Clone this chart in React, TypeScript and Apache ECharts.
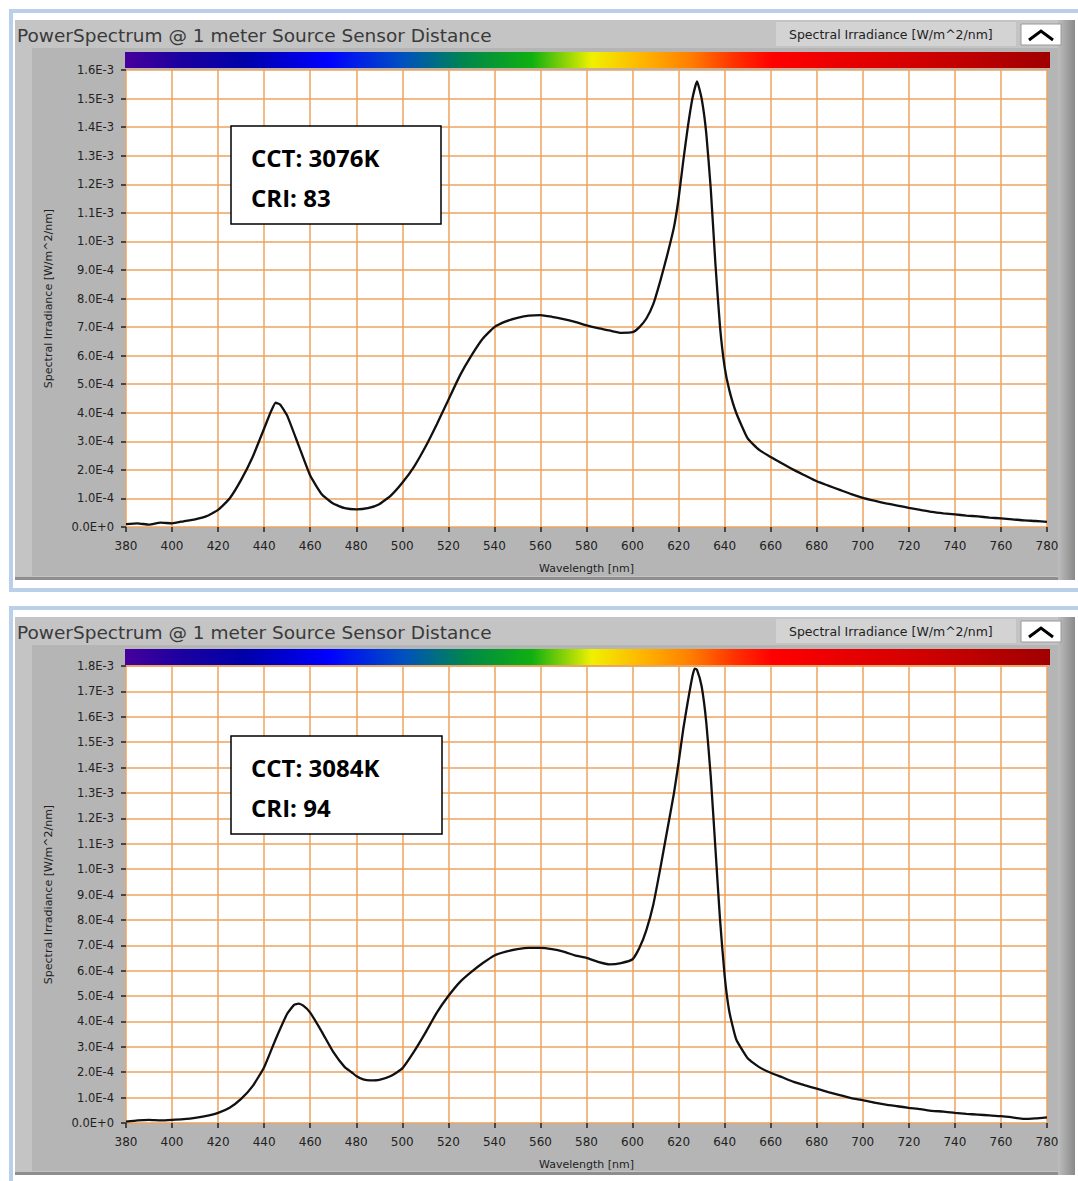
import React, { useEffect, useRef } from "react";
import * as echarts from "echarts";

// Values in units of 1E-4 W/m^2/nm : [wavelength nm, irradiance]
const UNIT = 1e-4;

const SPECTRUM_1: [number, number][] = [
  [380, 0.10], [385, 0.13], [390, 0.08], [395, 0.15], [400, 0.13], [405, 0.20], [410, 0.27], [415, 0.38],
  [420, 0.60], [425, 1.00], [430, 1.65], [435, 2.45], [440, 3.45], [443, 4.05], [445, 4.35], [447, 4.28],
  [450, 3.90], [455, 2.85], [460, 1.80], [465, 1.15], [470, 0.82], [475, 0.66], [480, 0.62], [485, 0.66],
  [490, 0.80], [495, 1.10], [500, 1.55], [505, 2.10], [510, 2.80], [515, 3.60], [520, 4.45], [525, 5.30],
  [530, 6.00], [535, 6.60], [540, 7.00], [545, 7.20], [550, 7.32], [555, 7.40], [560, 7.42], [565, 7.36],
  [570, 7.28], [575, 7.18], [580, 7.06], [585, 6.96], [590, 6.88], [595, 6.80], [600, 6.82], [603, 7.00],
  [606, 7.30], [609, 7.80], [612, 8.60], [615, 9.50], [618, 10.5], [620, 11.5], [622, 12.8], [624, 14.0],
  [626, 15.0], [628, 15.6], [630, 15.0], [632, 13.8], [634, 11.8], [636, 9.2], [638, 7.0], [640, 5.6],
  [642, 4.8], [645, 4.0], [650, 3.1], [655, 2.7], [660, 2.45], [665, 2.22], [670, 2.00], [675, 1.80],
  [680, 1.60], [685, 1.45], [690, 1.30], [695, 1.15], [700, 1.02], [705, 0.92], [710, 0.83], [715, 0.75],
  [720, 0.67], [725, 0.60], [730, 0.53], [735, 0.48], [740, 0.44], [745, 0.40], [750, 0.37], [755, 0.33],
  [760, 0.30], [765, 0.27], [770, 0.23], [775, 0.21], [780, 0.18],
];

const SPECTRUM_2: [number, number][] = [
  [380, 0.05], [385, 0.10], [390, 0.12], [395, 0.10], [400, 0.12], [405, 0.15], [410, 0.20], [415, 0.28],
  [420, 0.40], [425, 0.60], [430, 0.95], [435, 1.45], [440, 2.20], [445, 3.30], [450, 4.30], [453, 4.65],
  [455, 4.70], [457, 4.62], [460, 4.35], [465, 3.60], [470, 2.80], [475, 2.20], [478, 2.00], [480, 1.85],
  [483, 1.72], [486, 1.68], [490, 1.70], [495, 1.85], [500, 2.15], [505, 2.80], [510, 3.55], [515, 4.35],
  [520, 5.00], [525, 5.55], [530, 5.95], [535, 6.30], [540, 6.60], [545, 6.75], [550, 6.85], [555, 6.90],
  [560, 6.90], [565, 6.85], [570, 6.75], [575, 6.60], [580, 6.50], [585, 6.35], [590, 6.25], [595, 6.30],
  [600, 6.45], [603, 6.90], [606, 7.60], [609, 8.60], [612, 10.0], [615, 11.5], [618, 13.0], [620, 14.2],
  [622, 15.5], [624, 16.6], [626, 17.6], [627, 17.9], [628, 17.85], [630, 17.2], [632, 15.8], [634, 13.6],
  [636, 10.8], [638, 8.0], [640, 5.8], [642, 4.4], [645, 3.3], [650, 2.55], [655, 2.20], [660, 1.98],
  [665, 1.80], [670, 1.62], [675, 1.48], [680, 1.35], [685, 1.22], [690, 1.10], [695, 0.98], [700, 0.90],
  [705, 0.80], [710, 0.72], [715, 0.66], [720, 0.60], [725, 0.55], [730, 0.48], [735, 0.45], [740, 0.40],
  [745, 0.36], [750, 0.33], [755, 0.30], [760, 0.27], [765, 0.22], [770, 0.16], [775, 0.18], [780, 0.22],
];

const X_MIN = 380;
const X_MAX = 780;
const X_STEP = 20;
const Y_MAX_1 = 16; // in UNIT
const Y_MAX_2 = 18;
const Y_STEP = 1;

const TITLE = "PowerSpectrum @ 1 meter Source Sensor Distance";
const LEGEND_LABEL = "Spectral Irradiance [W/m^2/nm]";
const X_NAME = "Wavelength [nm]";
const Y_NAME = "Spectral Irradiance [W/m^2/nm]";
const BOX_1 = ["CCT: 3076K", "CRI: 83"];
const BOX_2 = ["CCT: 3084K", "CRI: 94"];

const FONT = "DejaVu Sans";
const GRID_COLOR = "#eda35f";

const rainbow = {
  type: "linear",
  x: 0, y: 0, x2: 1, y2: 0,
  colorStops: [
    { offset: 0, color: "#46009c" },
    { offset: 0.06, color: "#1c00a0" },
    { offset: 0.13, color: "#0000aa" },
    { offset: 0.22, color: "#0000ff" },
    { offset: 0.3, color: "#0050c0" },
    { offset: 0.37, color: "#00884a" },
    { offset: 0.44, color: "#10b010" },
    { offset: 0.505, color: "#f0f000" },
    { offset: 0.56, color: "#ffb400" },
    { offset: 0.61, color: "#ff8000" },
    { offset: 0.66, color: "#ff3000" },
    { offset: 0.7, color: "#ff0000" },
    { offset: 0.85, color: "#d40000" },
    { offset: 1, color: "#a00000" },
  ],
};

function panel(oy: number, frameH: number, borderH: number, box: { x: number; y: number; w: number; h: number }, lines: string[]) {
  return [
    { type: "rect", z: -20, shape: { x: 11, y: 11 + oy, width: 1080, height: borderH }, style: { fill: "none", stroke: "#b9cfea", lineWidth: 4 } },
    { type: "rect", z: -19, shape: { x: 15, y: 20 + oy, width: 1060, height: frameH }, style: { fill: "#c4c4c4" } },
    { type: "rect", z: -18, shape: { x: 32, y: 48 + oy, width: 1026, height: frameH - 32 }, style: { fill: "#b5b5b5" } },
    { type: "rect", z: -17, shape: { x: 15, y: 17 + oy + frameH, width: 1060, height: 3 }, style: { fill: "#8e8e8e" } },
    {
      type: "rect", z: -17, shape: { x: 1058, y: 20 + oy, width: 17, height: frameH },
      style: { fill: { type: "linear", x: 0, y: 0, x2: 1, y2: 0, colorStops: [{ offset: 0, color: "#bdbdbd" }, { offset: 1, color: "#8a8a8a" }] } },
    },
    { type: "text", z: 5, x: 17, y: 35 + oy, style: { text: TITLE, font: `18.5px ${FONT}`, fill: "#3a3a3a", verticalAlign: "middle" } },
    { type: "rect", z: 5, shape: { x: 776, y: 22 + oy, width: 240, height: 24 }, style: { fill: "#d3d3d3" } },
    { type: "text", z: 6, x: 789, y: 34 + oy, style: { text: LEGEND_LABEL, font: `12.5px ${FONT}`, fill: "#222", verticalAlign: "middle" } },
    { type: "rect", z: 5, shape: { x: 1021, y: 24 + oy, width: 40, height: 21 }, style: { fill: "#ffffff", stroke: "#9a9a9a", lineWidth: 1 } },
    { type: "polyline", z: 6, shape: { points: [[1029, 40 + oy], [1041, 31 + oy], [1053, 40 + oy]] }, style: { stroke: "#000", lineWidth: 3, fill: "none" } },
    { type: "rect", z: 5, shape: { x: 125, y: 52 + oy, width: 925, height: 16 }, style: { fill: rainbow } },
    { type: "rect", z: 50, shape: { x: box.x, y: box.y, width: box.w, height: box.h }, style: { fill: "#ffffff", stroke: "#000", lineWidth: 1.5 } },
    { type: "text", z: 51, x: box.x + 20, y: box.y + 31, style: { text: lines[0], font: `bold 24px "Open Sans"`, fill: "#000", verticalAlign: "middle" } },
    { type: "text", z: 51, x: box.x + 20, y: box.y + 71, style: { text: lines[1], font: `bold 24px "Open Sans"`, fill: "#000", verticalAlign: "middle" } },
  ];
}

function xAxis(gridIndex: number) {
  return {
    type: "value", gridIndex, min: X_MIN, max: X_MAX, interval: X_STEP,
    name: X_NAME, nameLocation: "middle", nameGap: 36,
    nameTextStyle: { fontFamily: FONT, fontSize: 11, color: "#222" },
    axisLine: { show: false },
    axisTick: { show: true, length: 5, lineStyle: { color: "#222", width: 1.5 } },
    axisLabel: { fontFamily: FONT, fontSize: 12, color: "#222", margin: 13 },
    splitLine: { show: true, lineStyle: { color: GRID_COLOR, width: 1.5 } },
  };
}

function yAxis(gridIndex: number, maxU: number) {
  return {
    type: "value", gridIndex, min: 0, max: maxU * UNIT, interval: Y_STEP * UNIT,
    name: Y_NAME, nameLocation: "middle", nameGap: 72,
    nameTextStyle: { fontFamily: FONT, fontSize: 11, color: "#222" },
    axisLine: { show: false },
    axisTick: { show: true, length: 5, lineStyle: { color: "#222", width: 1.5 } },
    axisLabel: {
      fontFamily: FONT, fontSize: 11.5, color: "#222", margin: 12,
      formatter: (v: number) => v.toExponential(1).toUpperCase(),
    },
    splitLine: { show: true, lineStyle: { color: GRID_COLOR, width: 1.5 } },
  };
}

function series(data: [number, number][], idx: number) {
  return {
    type: "line", xAxisIndex: idx, yAxisIndex: idx,
    data: data.map(([w, v]) => [w, v * UNIT]),
    showSymbol: false, smooth: 0.15,
    lineStyle: { color: "#111", width: 2.3 },
    z: 10,
  };
}

export default function App() {
  const ref = useRef<HTMLDivElement>(null);
  useEffect(() => {
    if (!ref.current) return;
    const chart = echarts.init(ref.current, undefined, { renderer: "svg" });
    chart.setOption({
      animation: false,
      backgroundColor: "#ffffff",
      grid: [
        { left: 126, top: 70, width: 921, height: 457, show: true, backgroundColor: "#ffffff", borderWidth: 0 },
        { left: 126, top: 666, width: 921, height: 457, show: true, backgroundColor: "#ffffff", borderWidth: 0 },
      ],
      xAxis: [xAxis(0), xAxis(1)],
      yAxis: [yAxis(0, Y_MAX_1), yAxis(1, Y_MAX_2)],
      series: [series(SPECTRUM_1, 0), series(SPECTRUM_2, 1)],
      graphic: [
        ...panel(0, 560, 579, { x: 231, y: 126, w: 210, h: 98 }, BOX_1),
        ...panel(597, 558, 700, { x: 231, y: 736, w: 211, h: 98 }, BOX_2),
      ],
    });
    return () => chart.dispose();
  }, []);
  return <div ref={ref} style={{ position: "absolute", left: 0, top: 0, width: 1078, height: 1181 }} />;
}
